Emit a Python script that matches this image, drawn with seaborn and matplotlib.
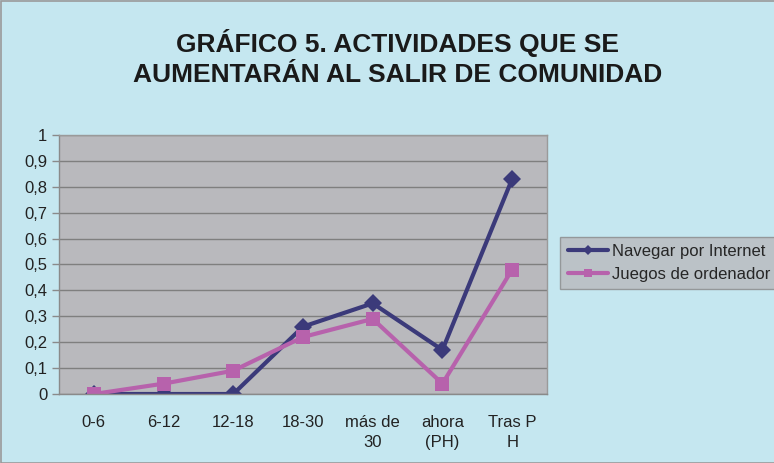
import pandas as pd
import matplotlib.pyplot as plt
import seaborn as sns

# values
categories = ['0-6', '6-12', '12-18', '18-30', 'más de\n30', 'ahora\n(PH)', 'Tras P\nH']
navegar = [0, 0, 0, 0.26, 0.35, 0.17, 0.83]
juegos = [0, 0.04, 0.09, 0.22, 0.29, 0.04, 0.48]
series_names = ['Navegar por Internet', 'Juegos de ordenador']

df = pd.DataFrame({
    'pos': list(range(len(categories))) * 2,
    'valor': navegar + juegos,
    'serie': [series_names[0]] * len(navegar) + [series_names[1]] * len(juegos),
})

sns.set_theme(style="white")
plt.rcParams['font.family'] = ['Liberation Sans', 'DejaVu Sans']

bg = '#C5E7F0'
fig = plt.figure(figsize=(7.74, 4.63), dpi=100, facecolor=bg)
ax = fig.add_axes([0.0762, 0.149, 0.6305, 0.5595])
ax.set_facecolor('#B9B9BD')

palette = {series_names[0]: '#3B3A7A', series_names[1]: '#B762AC'}
markers = {series_names[0]: 'D', series_names[1]: 's'}
sizes = {series_names[0]: 9, series_names[1]: 10}
for name in series_names:
    sub = df[df['serie'] == name]
    sns.lineplot(ax=ax, data=sub, x='pos', y='valor', color=palette[name],
                 marker=markers[name], markersize=sizes[name], markeredgewidth=0,
                 linewidth=3, label=name, legend=False)

ax.set_xlim(-0.5, len(categories) - 0.5)
ax.set_ylim(0, 1)
ax.set_yticks([i / 10 for i in range(11)])
ax.set_yticklabels(['0'] + ['0,%d' % i for i in range(1, 10)] + ['1'])
ax.set_xticks(range(len(categories)))
ax.set_xticklabels(categories, linespacing=1.4)
ax.set_xticks([i - 0.5 for i in range(len(categories) + 1)], minor=True)
ax.tick_params(axis='x', which='major', length=0, pad=15, labelsize=12, colors='#222222')
ax.tick_params(axis='x', which='minor', length=5, width=1, color='#8A8A8A', direction='out')
ax.tick_params(axis='y', length=5, width=1, color='#8A8A8A', direction='out', labelsize=12,
               labelcolor='#222222', left=True)
ax.grid(axis='y', color='#7F7F7F', linewidth=1)
ax.set_axisbelow(True)
ax.set_xlabel('')
ax.set_ylabel('')
for side in ['left', 'bottom']:
    ax.spines[side].set_color('#8A8A8A')
    ax.spines[side].set_linewidth(1)
for side in ['top', 'right']:
    ax.spines[side].set_color('#9A9A9A')
    ax.spines[side].set_linewidth(1)

fig.text(0.514, 0.874, 'GRÁFICO 5. ACTIVIDADES QUE SE\nAUMENTARÁN AL SALIR DE COMUNIDAD',
         ha='center', va='center', fontsize=19, fontweight='bold', color='#1A1A1A',
         linespacing=1.3)

handles, labels = ax.get_legend_handles_labels()
leg = fig.legend(handles, labels, loc='upper left', bbox_to_anchor=(0.724, 0.489),
                 frameon=True, fancybox=False, facecolor='#B9B9BD', edgecolor='#8A8A8A',
                 fontsize=12, handlelength=2.4, handletextpad=0.25, borderpad=0.45,
                 labelspacing=0.45, borderaxespad=0, markerscale=0.6)
leg.get_frame().set_linewidth(1)

# thin border around the chart area
fig.patches.append(plt.Rectangle((0.001, 0.0), 1.2, 0.997, transform=fig.transFigure,
                                 fill=False, edgecolor='#9A9A9A', linewidth=1.2))

fig.savefig('out.png', dpi=100, facecolor=bg)
